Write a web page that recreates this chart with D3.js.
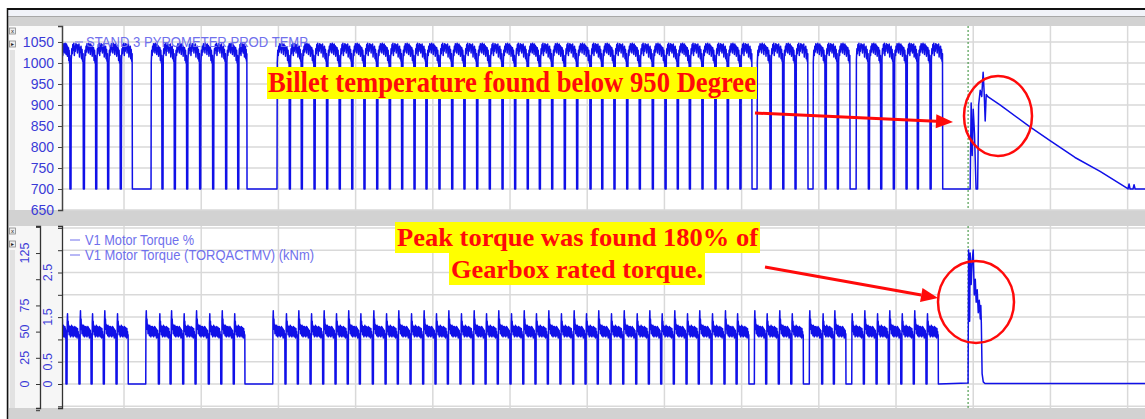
<!DOCTYPE html>
<html>
<head>
<meta charset="utf-8">
<script src="https://cdn.jsdelivr.net/npm/d3@7"></script>
<style>
  body { margin: 0; background: #fff; }
  svg { display: block; font-family: "Liberation Sans", Arial, sans-serif; }
</style>
</head>
<body>
<div id="chart"></div>
<script>
var width = 1145;
var height = 419;

// time in seconds, one vertical gridline per minute
var timeStart = 11.8, timeEnd = 853.5;
var gridTimes = [60, 120, 180, 240, 300, 360, 420, 480, 540, 600, 660, 720, 780, 840];
var cursorTime = 716.0;

var tempTicks = [650, 700, 750, 800, 850, 900, 950, 1000, 1050];
var pctTicks = [-25, 0, 25, 50, 75, 100, 125, 150];
var pctLabels = [0, 25, 50, 75, 125];
var knmTicks = [-0.5, 0, 0.5, 1, 1.5, 2, 2.5, 3, 3.5];
var knmLabels = [0, 0.5, 1.5, 2.5];

// pyrometer: times where the temperature falls to 700 between billets
var tempDrops = [18.0, 28.4, 38.0, 47.3, 57.1, 89.5, 99.1, 108.7, 118.8, 128.9, 139.0, 148.4,
  188.5, 197.8, 207.7, 217.5, 227.3, 237.0, 246.5, 256.4, 266.2, 275.8, 285.4, 294.7, 304.8,
  314.7, 324.2, 334.1, 343.9, 353.8, 363.6, 373.4, 382.8, 392.4, 402.2, 411.8, 422.2, 431.3,
  440.8, 450.7, 460.5, 470.6, 480.5, 490.0, 499.4, 509.2, 519.3, 528.9, 538.7, 562.1, 572.0,
  581.5, 604.9, 614.4, 638.5, 648.1, 657.9, 667.8, 676.6, 686.5];
var tempGaps = [[66.5, 81.0], [155.6, 178.9], [548.1, 552.0], [591.6, 595.5], [624.3, 629.0], [696.3, 716.0]];
var tempProfileA = [1002, 1030, 1018, 1040, 1026, 1046, 1032, 1044, 1024, 1047, 1034, 1043,
  1020, 1045, 1030, 1041, 1016, 1038, 1024, 1036, 1006, 1030, 1000, 1018];
var tempProfileB = [1008, 1034, 1022, 1044, 1030, 1047, 1018, 1040, 1028, 1046, 1036, 1044,
  1024, 1042, 1032, 1045, 1014, 1037, 1026, 1040, 1010, 1032, 1004, 1022];
var tempTail = [[716.0, 700], [717.6, 700], [718.4, 905], [719.2, 780], [720.0, 890], [721.0, 830],
  [722.2, 700], [723.4, 700], [724.2, 900], [725.4, 935], [726.6, 920], [727.7, 978], [728.5, 930],
  [729.3, 862], [730.1, 925], [731.6, 919], [740.8, 900], [764.1, 848], [779.7, 815], [799.1, 775],
  [818.6, 742], [839.5, 702], [840.3, 700], [841.1, 712], [841.9, 700], [844.2, 700], [845.0, 710],
  [845.8, 700], [853.5, 700]];

// motor torque %: times where torque falls to 0
var torqueDrops = [14.9, 25.0, 34.4, 43.9, 53.8, 86.7, 95.8, 105.6, 115.2, 125.5, 135.2, 144.9,
  185.1, 194.7, 204.6, 214.4, 224.0, 233.5, 242.9, 253.0, 262.9, 272.4, 282.3, 292.1, 301.7,
  311.3, 321.1, 331.0, 340.6, 350.1, 360.0, 369.9, 379.4, 389.0, 398.8, 408.7, 418.3, 427.8,
  437.7, 447.6, 457.7, 467.5, 477.1, 486.9, 496.8, 506.3, 516.2, 526.3, 535.7, 558.7, 568.5,
  578.2, 602.2, 611.3, 634.6, 644.5, 654.0, 663.7, 673.4, 683.3];
var torqueGaps = [[63.3, 76.9], [154.0, 175.6], [545.7, 549.9], [588.0, 592.6], [621.1, 625.6], [692.9, 716.0]];
var torqueProfileA = [60, 70, 57, 62, 52, 57, 48, 56, 50, 55, 46, 56, 49, 54, 45, 55, 50, 53, 46, 55,
  48, 54, 45, 53, 49, 55, 46, 54, 47, 53, 44, 52, 47, 51, 44, 48];
var torqueProfileB = [58, 67, 55, 60, 50, 56, 47, 55, 50, 54, 45, 55, 48, 56, 46, 53, 50, 55, 45, 54,
  49, 53, 46, 55, 48, 52, 45, 54, 47, 51, 44, 53, 46, 50, 45, 47];
var torqueTail = [[716.0, 1], [716.4, 128], [717.2, 60], [717.6, 125], [718.4, 95], [719.2, 118],
  [720.0, 128], [720.8, 85], [721.6, 100], [722.3, 78], [723.1, 90], [723.9, 68], [724.7, 80],
  [725.5, 62], [725.9, 75], [726.3, 58], [726.9, 10], [727.8, 2], [729.1, 0.5], [853.5, 0.5]];

var blue = "#1010e8";
var labelBlue = "#3a3ad6";
var legendBlue = "#7070ec";
var red = "#ff0a0a";

var svg = d3.select("#chart")
  .append("svg")
    .attr("width", width)
    .attr("height", height);

var x = d3.scaleLinear().domain([timeStart, timeEnd]).range([62, 1145]);
var yTemp = d3.scaleLinear().domain([650, 1088]).range([210, 26]);
var yPct = d3.scaleLinear().domain([-22.9, 150.8]).range([408, 226]);
var yKnm = d3.scaleLinear().domain([-0.538, 3.543]).range([408, 226]);

// window frame
svg.append("rect").attr("x", 0).attr("y", 0).attr("width", width).attr("height", height).attr("fill", "#fff");
svg.append("rect").attr("x", 8).attr("y", 9).attr("width", width - 8).attr("height", height - 9).attr("fill", "#d2d2d2");
svg.append("rect").attr("x", 8).attr("y", 10).attr("width", width - 8).attr("height", 6).attr("fill", "#f1f3f9");
svg.append("line").attr("x1", 8).attr("x2", width).attr("y1", 16.5).attr("y2", 16.5).attr("stroke", "#a8a8a8");
svg.append("line").attr("x1", 7).attr("x2", width).attr("y1", 9).attr("y2", 9).attr("stroke", "#111").attr("stroke-width", 2);
svg.append("line").attr("x1", 7.5).attr("x2", 7.5).attr("y1", 8).attr("y2", height).attr("stroke", "#111").attr("stroke-width", 1.5);

// left label panels
svg.append("rect").attr("x", 9).attr("y", 26).attr("width", 53).attr("height", 184).attr("fill", "#fafafa");
svg.append("rect").attr("x", 9).attr("y", 226).attr("width", 53).attr("height", 182).attr("fill", "#f6f6f6");
[[50, 210], [250, 408]].forEach(function(r) {
  svg.append("rect").attr("x", 10).attr("y", r[0]).attr("width", 5).attr("height", r[1] - r[0]).attr("fill", "#e2e2e2");
});
[28, 41, 228, 241].forEach(function(by, i) {
  svg.append("rect").attr("x", 9.5).attr("y", by).attr("width", 6).attr("height", 6)
    .attr("fill", "#eee").attr("stroke", "#888").attr("stroke-width", 0.8);
  svg.append("text").attr("x", 12.5).attr("y", by + 5.2).attr("text-anchor", "middle")
    .attr("font-size", 6).attr("fill", "#222").text(i % 2 == 0 ? "x" : "▸");
});

function buildSeries(drops, gaps, dropWidth, profiles, idleValue, tail, start) {
  var idle = drops.map(function(t) { return [t, t + dropWidth]; }).concat(gaps);
  idle.sort(function(a, b) { return a[0] - b[0]; });
  var pts = [];
  var from = start;
  idle.forEach(function(p, i) {
    var a = from, b = p[0];
    var profile = profiles[i % profiles.length];
    var n = profile.length;
    if (i > 0) pts.push([a, idleValue]);
    for (var k = 0; k < n; k++) {
      pts.push([a + (b - a) * (k + 0.5) / n, profile[k]]);
    }
    pts.push([b, idleValue]);
    from = p[1];
  });
  return pts.concat(tail);
}

var tempSeries = buildSeries(tempDrops, tempGaps, 0.8, [tempProfileA, tempProfileB], 700, tempTail, timeStart);
var torqueSeries = buildSeries(torqueDrops, torqueGaps, 0.8, [torqueProfileA, torqueProfileB], 0, torqueTail, timeStart);

function panel(top, bottom, yScale, ticks, id) {
  var g = svg.append("g");
  g.append("rect").attr("x", 62).attr("y", top).attr("width", width - 62).attr("height", bottom - top).attr("fill", "#fff");
  g.append("defs").append("clipPath").attr("id", id)
    .append("rect").attr("x", 62).attr("y", top).attr("width", width - 62).attr("height", bottom - top);
  g.selectAll(".vg").data(gridTimes).enter().append("line")
    .attr("x1", function(d) { return x(d); }).attr("x2", function(d) { return x(d); })
    .attr("y1", top).attr("y2", bottom)
    .attr("stroke", "#d9d9d9").attr("stroke-width", 1.5);
  g.selectAll(".hg").data(ticks).enter().append("line")
    .attr("x1", 62).attr("x2", width)
    .attr("y1", function(d) { return yScale(d); }).attr("y2", function(d) { return yScale(d); })
    .attr("stroke", "#d9d9d9").attr("stroke-width", 1.5);
  g.append("line")
    .attr("x1", x(cursorTime)).attr("x2", x(cursorTime)).attr("y1", top).attr("y2", bottom)
    .attr("stroke", "#2e8b2e").attr("stroke-width", 1).attr("stroke-dasharray", "2,2");
  return g;
}

// top panel: pyrometer temperature
var topG = panel(26, 210, yTemp, tempTicks, "clipTop");
topG.append("path")
  .datum(tempSeries)
  .attr("clip-path", "url(#clipTop)")
  .attr("fill", "none")
  .attr("stroke", blue)
  .attr("stroke-width", 1.5)
  .attr("stroke-linejoin", "round")
  .attr("d", d3.line().x(function(d) { return x(d[0]); }).y(function(d) { return yTemp(d[1]); }));

var tempAxis = svg.append("g")
  .attr("transform", "translate(62,0)")
  .call(d3.axisLeft(yTemp).tickValues(tempTicks).tickSize(4).tickPadding(4).tickFormat(d3.format("d")));
tempAxis.select(".domain").attr("stroke", "#444").attr("stroke-width", 1.5);
tempAxis.selectAll(".tick line").attr("stroke", "#444");
tempAxis.selectAll("text").attr("fill", labelBlue).attr("font-size", 14)
  .attr("font-family", "'Liberation Sans', Arial, sans-serif");

topG.append("line").attr("x1", 75).attr("x2", 83).attr("y1", 42).attr("y2", 42).attr("stroke", legendBlue);
topG.append("text").attr("x", 86).attr("y", 47).attr("fill", legendBlue).attr("font-size", 14)
  .attr("textLength", 222).attr("lengthAdjust", "spacingAndGlyphs")
  .text("STAND 3 PYROMETER PROD TEMP");

// bottom panel: motor torque
var botG = panel(226, 408, yKnm, knmTicks, "clipBot");
botG.append("path")
  .datum(torqueSeries)
  .attr("clip-path", "url(#clipBot)")
  .attr("fill", "none")
  .attr("stroke", blue)
  .attr("stroke-width", 1.5)
  .attr("stroke-linejoin", "round")
  .attr("d", d3.line().x(function(d) { return x(d[0]); }).y(function(d) { return yPct(d[1]); }));

var pctAxis = svg.append("g")
  .attr("transform", "translate(40,0)")
  .call(d3.axisLeft(yPct).tickValues(pctTicks).tickSize(4).tickFormat(""));
var knmAxis = svg.append("g")
  .attr("transform", "translate(62,0)")
  .call(d3.axisLeft(yKnm).tickValues(knmTicks).tickSize(4).tickFormat(""));
[pctAxis, knmAxis].forEach(function(a) {
  a.select(".domain").attr("stroke", "#333").attr("stroke-width", 1.3);
  a.selectAll(".tick line").attr("stroke", "#333");
});
svg.selectAll(".pctLab").data(pctLabels).enter().append("text")
  .attr("transform", function(d) { return "translate(28.5," + yPct(d) + ") rotate(-90)"; })
  .attr("text-anchor", "middle").attr("font-size", 12.5).attr("fill", labelBlue)
  .text(function(d) { return d; });
svg.selectAll(".knmLab").data(knmLabels).enter().append("text")
  .attr("transform", function(d) { return "translate(51.5," + yKnm(d) + ") rotate(-90)"; })
  .attr("text-anchor", "middle").attr("font-size", 12.5).attr("fill", labelBlue)
  .text(function(d) { return d; });

[["V1 Motor Torque %", 240, 109], ["V1 Motor Torque (TORQACTMV) (kNm)", 255, 229]].forEach(function(l) {
  botG.append("line").attr("x1", 70).attr("x2", 80).attr("y1", l[1]).attr("y2", l[1]).attr("stroke", legendBlue);
  botG.append("text").attr("x", 85).attr("y", l[1] + 5).attr("fill", legendBlue).attr("font-size", 14)
    .attr("textLength", l[2]).attr("lengthAdjust", "spacingAndGlyphs").text(l[0]);
});

// annotations
function note(txt, bx, by, bw, bh, tx, ty, tw, size) {
  svg.append("rect").attr("x", bx).attr("y", by).attr("width", bw).attr("height", bh).attr("fill", "#ffff00");
  svg.append("text").attr("x", tx).attr("y", ty)
    .attr("font-family", "'Liberation Serif', 'Times New Roman', serif")
    .attr("font-weight", "bold").attr("font-size", size).attr("fill", red)
    .attr("textLength", tw).attr("lengthAdjust", "spacingAndGlyphs")
    .text(txt);
}
note("Billet temperature found below 950 Degree", 267, 67, 490, 32, 268, 92, 488, 29);
note("Peak torque was found 180% of", 395, 222, 365, 31, 397, 246, 361, 26);
note("Gearbox rated torque.", 449, 253, 256, 32, 451, 278, 252, 26);

function arrow(x1, y1, x2, y2) {
  var ang = Math.atan2(y2 - y1, x2 - x1);
  var len = 17, half = 7;
  var bx = x2 - len * Math.cos(ang), by = y2 - len * Math.sin(ang);
  svg.append("line").attr("x1", x1).attr("y1", y1).attr("x2", bx).attr("y2", by)
    .attr("stroke", red).attr("stroke-width", 3);
  svg.append("path")
    .attr("d", "M" + x2 + "," + y2 +
      "L" + (bx + half * Math.sin(ang)) + "," + (by - half * Math.cos(ang)) +
      "L" + (bx - half * Math.sin(ang)) + "," + (by + half * Math.cos(ang)) + "Z")
    .attr("fill", red);
}
arrow(755, 113, 953, 122);
arrow(765, 267, 938, 298);

svg.append("ellipse").attr("cx", 998).attr("cy", 116).attr("rx", 34).attr("ry", 40)
  .attr("fill", "none").attr("stroke", red).attr("stroke-width", 2.5);
svg.append("ellipse").attr("cx", 976).attr("cy", 302).attr("rx", 38).attr("ry", 41)
  .attr("fill", "none").attr("stroke", red).attr("stroke-width", 2.5);
</script>
</body>
</html>
